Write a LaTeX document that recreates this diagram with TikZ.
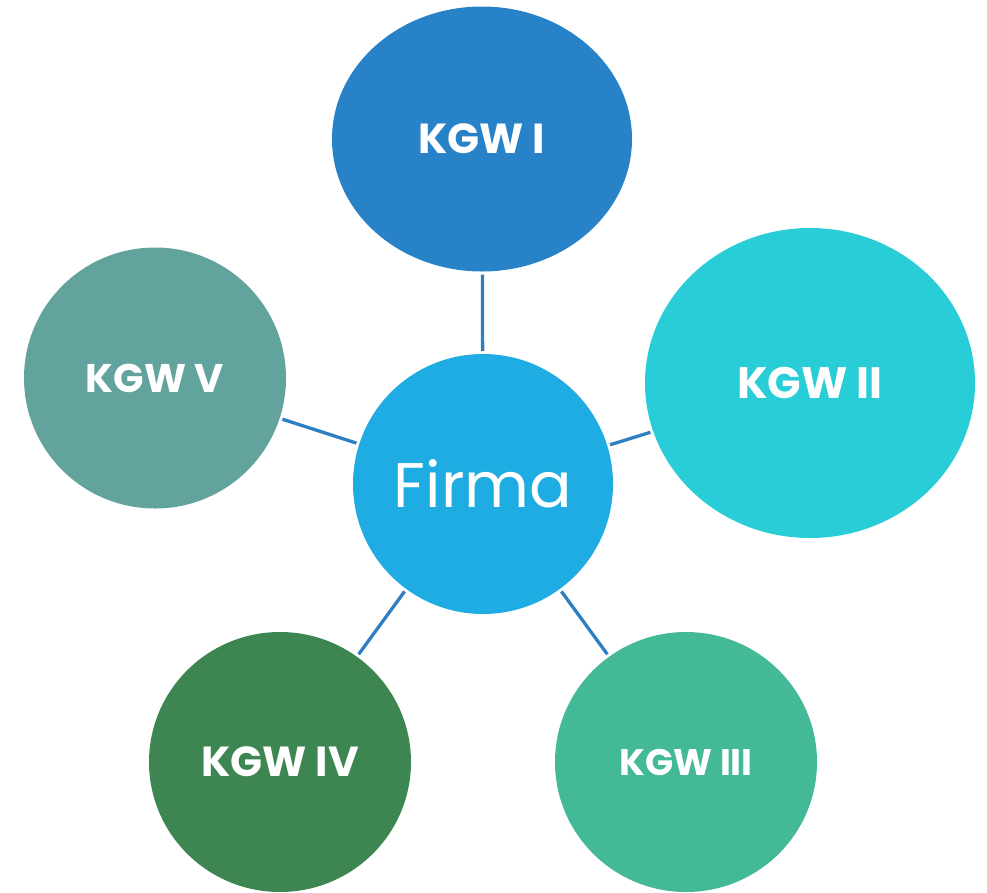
\documentclass[tikz,border=0pt]{standalone}
\usepackage{fontspec}
\setmainfont{Poppins}
\usetikzlibrary{shapes.geometric}
\definecolor{cI}{HTML}{2882C8}
\definecolor{cII}{HTML}{29CDD7}
\definecolor{cIII}{HTML}{44B997}
\definecolor{cIV}{HTML}{3E8651}
\definecolor{cV}{HTML}{62A39D}
\definecolor{cF}{HTML}{1FACE2}
\definecolor{cLine}{HTML}{2D7FC4}
\tikzset{
  blob/.style={ellipse, inner sep=0pt, outer sep=0pt, text=white, font=\bfseries},
  link/.style={draw=cLine, line width=3.3pt, shorten <=3pt, shorten >=3pt}
}
\begin{document}
\begin{tikzpicture}[x=1pt,y=-1pt]
\useasboundingbox (0,0) rectangle (987,892);
\node[blob, fill=cI, minimum width=300pt, minimum height=265pt, font=\bfseries\fontsize{42}{48}\selectfont] (k1) at (482,139) {KGW I};
\node[blob, fill=cII, minimum width=330pt, minimum height=310pt, font=\bfseries\fontsize{44}{50}\selectfont] (k2) at (810,383) {KGW II};
\node[blob, fill=cIII, minimum width=262pt, minimum height=260pt, font=\bfseries\fontsize{37}{42}\selectfont] (k3) at (686,762) {KGW III};
\node[blob, fill=cIV, minimum width=262pt, minimum height=260pt, font=\bfseries\fontsize{42}{48}\selectfont] (k4) at (280,762) {KGW IV};
\node[blob, fill=cV, minimum width=262pt, minimum height=261pt, font=\bfseries\fontsize{40}{46}\selectfont] (k5) at (155,378) {KGW V};
\node[ellipse, inner sep=0pt, outer sep=0pt, text=white, fill=cF, minimum width=260pt, minimum height=260pt, font=\fontsize{63}{70}\selectfont] (f) at (483,484) {Firma};
\draw[link] (k1) -- (f);
\draw[link] (k2) -- (f);
\draw[link] (k3) -- (f);
\draw[link] (k4) -- (f);
\draw[link] (k5) -- (f);
\end{tikzpicture}
\end{document}
